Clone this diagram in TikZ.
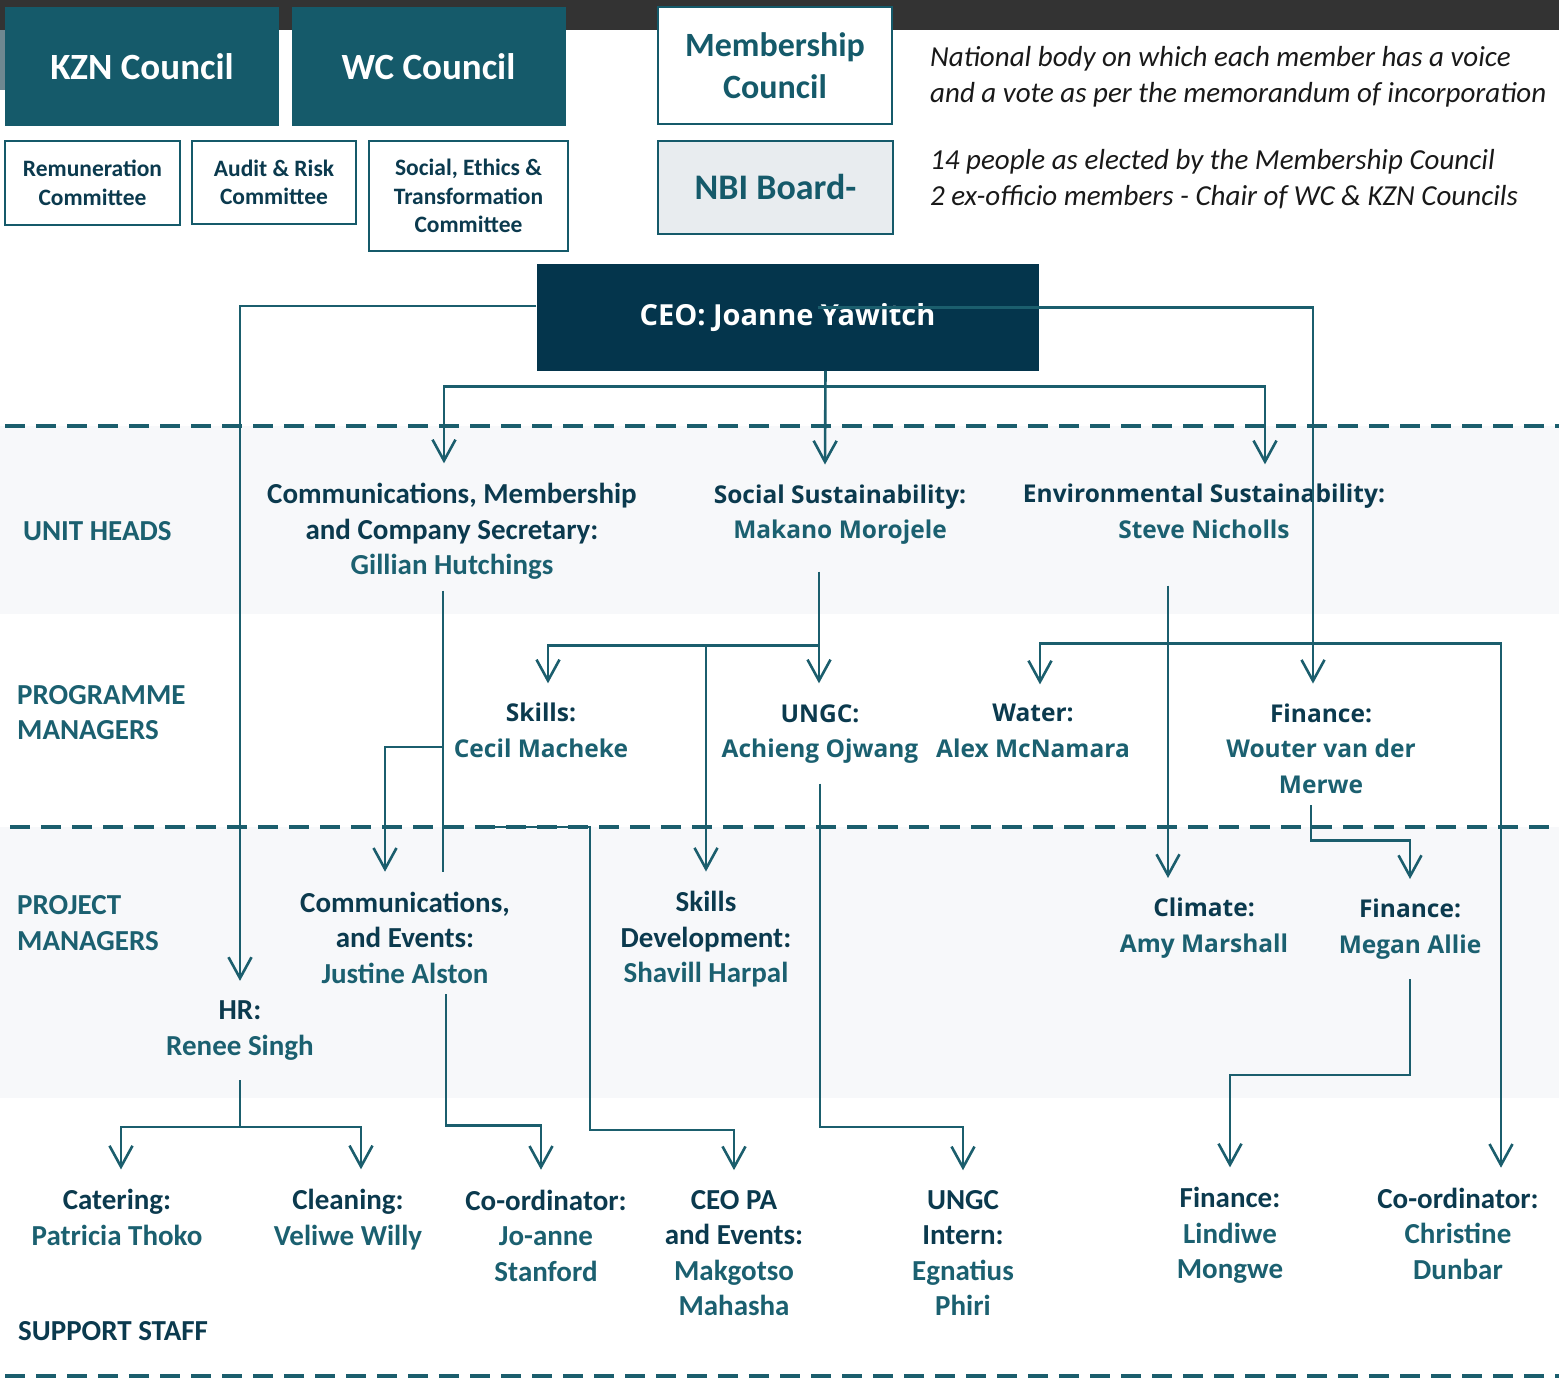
\documentclass[tikz,border=0pt]{standalone}
\usepackage{fontspec}
\setmainfont{Carlito}
\newfontfamily\opensans{Open Sans}
\usepackage{tikz}
\usetikzlibrary{arrows.meta,positioning,calc}

\definecolor{nbiteal}{HTML}{155A6A}
\definecolor{nbinavy}{HTML}{04354C}
\definecolor{titlecol}{HTML}{0B3A4E}
\definecolor{namecol}{HTML}{1B6070}
\definecolor{linecol}{HTML}{1B5E6D}
\definecolor{bandcol}{HTML}{F7F8FA}
\definecolor{boardfill}{HTML}{E8ECEF}
\definecolor{topbar}{HTML}{333333}
\definecolor{stripcol}{HTML}{6E8891}

\newcommand{\nm}[1]{\textcolor{namecol}{#1}}

\begin{document}
\begin{tikzpicture}[x=1pt, y=-1pt, >={Straight Barb[length=21pt,width=23pt]}]
  \tikzstyle{council}=[fill=nbiteal, text=white, inner sep=0pt, minimum width=274pt, minimum height=119pt, font=\fontsize{37}{42}\selectfont\bfseries]
  \tikzstyle{committee}=[draw=nbiteal, line width=2.5pt, fill=white, align=center, inner sep=0pt, text=titlecol, font=\fontsize{23.5}{28.5}\selectfont\bfseries]
  \tikzstyle{memberbox}=[draw=nbiteal, line width=2.5pt, fill=white, align=center, inner sep=0pt, text=nbiteal, font=\fontsize{34}{42}\selectfont\bfseries]
  \tikzstyle{note}=[anchor=west, align=left, inner sep=0pt, text=black!90, font=\fontsize{29}{36}\selectfont\itshape]
  \tikzstyle{person}=[align=center, inner sep=0pt, outer ysep=20pt, text=titlecol, font=\fontsize{29}{35.5}\selectfont\bfseries]
  \tikzstyle{personos}=[person, font=\opensans\fontsize{24.5}{35.5}\selectfont\bfseries]
  \tikzstyle{rowlabel}=[anchor=west, align=left, inner sep=0pt, text=namecol, font=\fontsize{29}{35.5}\selectfont\bfseries]
  \tikzstyle{sep}=[draw=linecol, line width=4.5pt, dash pattern=on 20pt off 11pt]
  \tikzstyle{link}=[draw=linecol, line width=2.6pt]
  \tikzstyle{arr}=[link, ->]

  \useasboundingbox (0,0) rectangle (1559,1383);

  % background bar and bands
  \fill[topbar] (0,0) rectangle (1559,30);
  \fill[stripcol] (0,30) rectangle (5,90);
  \fill[bandcol] (0,426) rectangle (1559,614);
  \fill[bandcol] (0,827) rectangle (1559,1098);
  \draw[sep] (5,426) -- (1559,426);
  \draw[sep] (10,827) -- (1559,827);
  \draw[sep] (5,1376) -- (1559,1376);

  % governance
  \node[council] (kzn) at (142,66.5) {KZN Council};
  \node[council] (wc) at (428.5,66.5) {WC Council};
  \node[committee, minimum width=175pt, minimum height=84pt] (remun) at (92.5,183) {Remuneration\\Committee};
  \node[committee, minimum width=164pt, minimum height=83pt] (audit) at (274,182.5) {Audit \& Risk\\Committee};
  \node[committee, minimum width=199pt, minimum height=110pt] (ethics) at (468.5,196) {Social, Ethics \&\\Transformation\\Committee};
  \node[memberbox, minimum width=234pt, minimum height=117pt] (member) at (775,65.5) {Membership\\Council};
  \node[memberbox, fill=boardfill, minimum width=235pt, minimum height=93pt, font=\fontsize{36}{42}\selectfont\bfseries] (board) at (775.5,187.5) {NBI Board-};
  \node[note] (membernote) at (930,77) {National body on which each member has a voice\\and a vote as per the memorandum of incorporation};
  \node[note] (boardnote) at (930,179) {14 people as elected by the Membership Council\\2 ex-officio members - Chair of WC \& KZN Councils};

  \node[fill=nbinavy, text=white, inner sep=0pt, minimum width=502pt, minimum height=106pt, font=\opensans\fontsize{29}{35}\selectfont\bfseries] (ceo) at (787.5,317.5) {CEO: Joanne Yawitch};

  % row labels
  \node[rowlabel] (lunit) at (23,531) {UNIT HEADS};
  \node[rowlabel] (lprog) at (17,712.5) {PROGRAMME\\MANAGERS};
  \node[rowlabel] (lproj) at (17,923) {PROJECT\\MANAGERS};
  \node[rowlabel, text=titlecol] (lsupp) at (18,1331) {SUPPORT STAFF};

  % unit heads
  \node[person] (comm) at (452,531.5) {Communications, Membership\\and Company Secretary:\\\nm{Gillian Hutchings}};
  \node[personos] (socsust) at (840,514.5) {Social Sustainability:\\\nm{Makano Morojele}};
  \node[personos] (env) at (1204,511.5) {Environmental Sustainability:\\\nm{Steve Nicholls}};

  % programme managers
  \node[personos] (skills) at (541,730.5) {Skills:\\\nm{Cecil Macheke}};
  \node[personos] (ungc) at (820,734) {UNGC:\\\nm{Achieng Ojwang}};
  \node[personos] (water) at (1033,731) {Water:\\\nm{Alex McNamara}};
  \node[personos] (finw) at (1321,748.5) {Finance:\\\nm{Wouter van der}\\\nm{Merwe}};

  % project managers
  \node[person] (hr) at (240,1030.5) {HR:\\\nm{Renee Singh}};
  \node[person] (events) at (405,937.5) {Communications,\\and Events:\\\nm{Justine Alston}};
  \node[person] (skilldev) at (706,939.5) {Skills\\Development:\\\nm{Shavill Harpal}};
  \node[personos] (climate) at (1204,928) {Climate:\\\nm{Amy Marshall}};
  \node[personos] (megan) at (1410,929) {Finance:\\\nm{Megan Allie}};

  % support staff
  \node[person] (catering) at (117,1217.5) {Catering:\\\nm{Patricia Thoko}};
  \node[person] (cleaning) at (348,1219.5) {Cleaning:\\\nm{Veliwe Willy}};
  \node[person] (coordj) at (546,1235.5) {Co-ordinator:\\\nm{Jo-anne}\\\nm{Stanford}};
  \node[person] (ceopa) at (734,1253) {CEO PA\\and Events:\\\nm{Makgotso}\\\nm{Mahasha}};
  \node[person] (intern) at (963,1253) {UNGC\\Intern:\\\nm{Egnatius}\\\nm{Phiri}};
  \node[person] (lindiwe) at (1230,1235.5) {Finance:\\\nm{Lindiwe}\\\nm{Mongwe}};
  \node[person] (christine) at (1458,1233.5) {Co-ordinator:\\\nm{Christine}\\\nm{Dunbar}};

  % connectors from the CEO
  \coordinate (ceobus) at ($(ceo.south)+(38,16)$);
  \draw[arr] (ceo.west |- 0,306) -| (hr.north);
  \draw[arr] ([xshift=30pt,yshift=10pt]ceo.center) -| ([xshift=-8pt]finw.north);
  \draw[arr] ([xshift=38pt]ceo.south) -- ([xshift=-15pt]socsust.north);
  \draw[arr] (ceobus) -| ([xshift=-8pt]comm.north);
  \draw[arr] (ceobus) -| ([xshift=61pt]env.north);

  % communications unit
  \coordinate (commdrop) at ($(comm.south)+(-9,-9)$);
  \draw[link] (commdrop) -- (commdrop |- events.north);
  \draw[arr] (commdrop |- 0,747) -| ([xshift=-20pt]events.north);
  \draw[arr] ([xshift=41pt,yshift=9pt]events.south) -- ++(0,131) -| ([xshift=-5pt]coordj.north);

  % social sustainability unit
  \coordinate (socbus) at ($(socsust.south)+(-21,81)$);
  \draw[link] ([xshift=-21pt,yshift=-7pt]socsust.south) -- (socbus);
  \draw[arr] (socbus) -| ([xshift=7pt]skills.north);
  \draw[arr] (socbus) -- (socbus |- skills.north);
  \draw[arr] (socbus -| skilldev.north) -- (skilldev.north);
  \draw[arr] (ungc.south) -- (ungc.south |- 0,1127) -| (intern.north);

  % environmental sustainability unit
  \coordinate (envbus) at ($(env.south)+(-36,85)$);
  \draw[arr] ([xshift=-36pt,yshift=-27pt]env.south) -- ([xshift=-36pt]climate.north);
  \draw[arr] (envbus) -| ([xshift=7pt]water.north);
  \draw[arr] (envbus) -| ([xshift=43pt]christine.north);

  % finance and HR
  \draw[arr] ([xshift=-10pt,yshift=8pt]finw.south) -- ++(0,35) -| (megan.north);
  \draw[arr] (megan.south) -- (megan.south |- 0,1075) -| (lindiwe.north);
  \coordinate (hrbus) at ($(hr.south)+(0,47)$);
  \draw[link] (hr.south) -- (hrbus);
  \draw[arr] (hrbus) -| ([xshift=4pt]catering.north);
  \draw[arr] (hrbus) -| ([xshift=13pt]cleaning.north);

  % CEO PA feed
  \coordinate (pafeed) at (484,827);
  \draw[arr] (pafeed) -- (590,827) |- (ceopa.north |- 0,1130) -- (ceopa.north);
\end{tikzpicture}
\end{document}
